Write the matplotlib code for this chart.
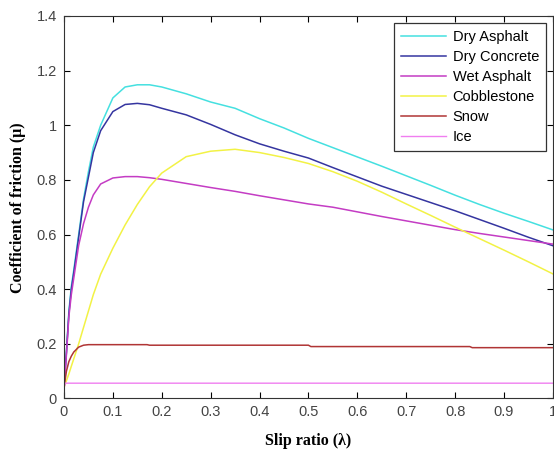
import matplotlib
matplotlib.use("Agg")
import matplotlib.pyplot as plt
from matplotlib.ticker import FuncFormatter

# slip ratio grid
slip = [0, 0.005, 0.01, 0.015, 0.02, 0.03, 0.04, 0.05, 0.06, 0.075, 0.1, 0.125, 0.15, 0.175,
        0.2, 0.25, 0.3, 0.35, 0.4, 0.45, 0.5, 0.55, 0.6, 0.65, 0.7, 0.75, 0.8, 0.85, 0.9, 0.95, 1.0]

dry_asphalt = [0.04, 0.17, 0.32, 0.41, 0.47, 0.60, 0.73, 0.83, 0.92, 1.0, 1.10, 1.14, 1.148, 1.148,
               1.14, 1.115, 1.085, 1.062, 1.024, 0.99, 0.952, 0.918, 0.884, 0.85, 0.815, 0.78, 0.744,
               0.71, 0.678, 0.648, 0.617]
dry_concrete = [0.04, 0.17, 0.31, 0.40, 0.46, 0.59, 0.72, 0.81, 0.90, 0.98, 1.05, 1.076, 1.08, 1.075,
                1.062, 1.038, 1.003, 0.965, 0.932, 0.905, 0.88, 0.845, 0.811, 0.777, 0.747, 0.717,
                0.687, 0.655, 0.623, 0.59, 0.559]
wet_asphalt = [0.04, 0.16, 0.30, 0.38, 0.44, 0.56, 0.64, 0.70, 0.745, 0.785, 0.807, 0.812, 0.812, 0.808,
               0.802, 0.787, 0.772, 0.758, 0.742, 0.727, 0.712, 0.70, 0.683, 0.666, 0.65, 0.634,
               0.618, 0.604, 0.591, 0.578, 0.565]
cobblestone = [0.04, 0.065, 0.09, 0.118, 0.145, 0.20, 0.26, 0.32, 0.38, 0.455, 0.55, 0.635, 0.71, 0.775,
               0.825, 0.885, 0.905, 0.912, 0.90, 0.882, 0.86, 0.83, 0.795, 0.755, 0.712, 0.67,
               0.627, 0.585, 0.543, 0.50, 0.456]

snow_slip = [0, 0.005, 0.01, 0.015, 0.02, 0.03, 0.04, 0.05, 0.17, 0.175, 0.5, 0.505, 0.83, 0.835, 1.0]
snow = [0.04, 0.10, 0.135, 0.155, 0.17, 0.188, 0.195, 0.197, 0.197, 0.195, 0.195, 0.19, 0.19, 0.186, 0.186]

ice_slip = [0, 0.003, 1.0]
ice = [0.04, 0.056, 0.056]

fig = plt.figure(figsize=(5.54, 4.49), dpi=100)
ax = fig.add_axes([0.1155, 0.1125, 0.8825, 0.852])

ax.plot(slip, dry_asphalt, color='#45e0e0', linewidth=1.1, label='Dry Asphalt')
ax.plot(slip, dry_concrete, color='#3535a0', linewidth=1.1, label='Dry Concrete')
ax.plot(slip, wet_asphalt, color='#c43cc4', linewidth=1.1, label='Wet Asphalt')
ax.plot(slip, cobblestone, color='#f2f245', linewidth=1.1, label='Cobblestone')
ax.plot(snow_slip, snow, color='#b03535', linewidth=1.1, label='Snow')
ax.plot(ice_slip, ice, color='#f07ef0', linewidth=1.0, label='Ice')

ax.set_xlim(0, 1)
ax.set_ylim(0, 1.4)
ax.set_xticks([i / 10 for i in range(11)])
ax.set_yticks([i / 5 for i in range(8)])
fmt = FuncFormatter(lambda v, p: ('%g' % round(v, 2)))
ax.xaxis.set_major_formatter(fmt)
ax.yaxis.set_major_formatter(fmt)
ax.tick_params(direction='in', top=True, right=True, labelsize=10.5, length=4,
               labelcolor='#444444', pad=5)
for lab in ax.get_xticklabels() + ax.get_yticklabels():
    lab.set_family('Liberation Sans')
for s in ax.spines.values():
    s.set_color('#333333')

ax.set_xlabel('Slip ratio (λ)', family='Liberation Serif', fontsize=11.5, fontweight='bold', labelpad=10)
ax.set_ylabel('Coefficient of friction (μ)', family='Liberation Serif', fontsize=11.5, fontweight='bold',
              labelpad=8)

leg = ax.legend(loc='upper right', prop={'family': 'Liberation Sans', 'size': 10.5}, fancybox=False,
                framealpha=1, edgecolor='#333333', handlelength=3.1, borderaxespad=0.5,
                labelspacing=0.42, handletextpad=0.45, borderpad=0.45)
leg.get_frame().set_linewidth(0.9)

fig.savefig('out.png', dpi=100)
